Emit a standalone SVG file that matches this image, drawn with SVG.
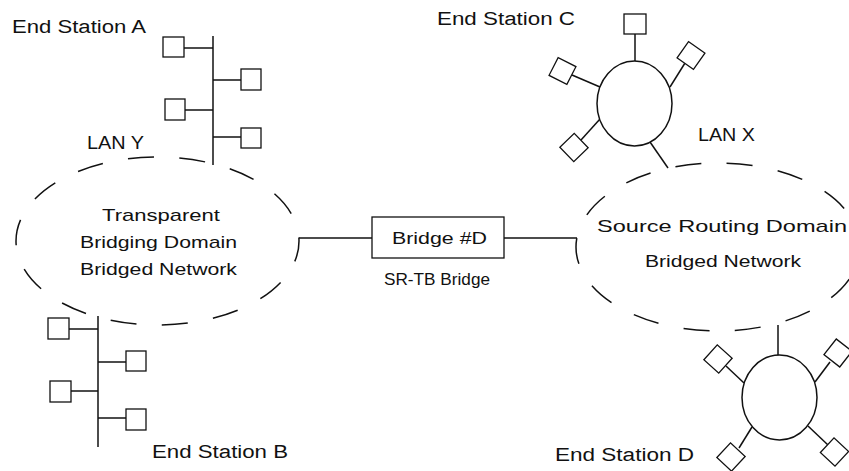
<svg xmlns="http://www.w3.org/2000/svg" width="849" height="471" viewBox="0 0 849 471">
  <style>
    .ln { stroke: #111; stroke-width: 1.5; fill: none; }
    .sta { stroke: #111; stroke-width: 1.3; fill: #fff; }
    .ring { stroke: #111; stroke-width: 1.5; fill: #fff; }
    .dom { stroke: #111; stroke-width: 1.5; fill: none; stroke-dasharray: 26 25.5; }
    .lbl { font-family: "Liberation Sans", Arial, sans-serif; font-size: 18px; fill: #111; }
    .in { font-family: "Liberation Sans", Arial, sans-serif; font-size: 17px; fill: #111; }
  </style>

  <!-- Transparent bridging domain (LAN Y) -->
  <g id="domain-y">
    <ellipse class="dom" cx="157.5" cy="241" rx="141.5" ry="84" stroke-dashoffset="5"/>
    <text class="lbl" x="87" y="149" textLength="57" lengthAdjust="spacingAndGlyphs">LAN Y</text>
    <text class="in" x="102" y="221" textLength="118" lengthAdjust="spacingAndGlyphs">Transparent</text>
    <text class="in" x="80" y="248" textLength="157" lengthAdjust="spacingAndGlyphs">Bridging Domain</text>
    <text class="in" x="80" y="275" textLength="157" lengthAdjust="spacingAndGlyphs">Bridged Network</text>
  </g>

  <!-- Source routing domain (LAN X) -->
  <g id="domain-x">
    <ellipse class="dom" cx="718" cy="247" rx="142" ry="84" stroke-dashoffset="17" transform="rotate(180 718 247)"/>
    <text class="lbl" x="698" y="141" textLength="57" lengthAdjust="spacingAndGlyphs">LAN X</text>
    <text class="in" x="597" y="232" textLength="250" lengthAdjust="spacingAndGlyphs">Source Routing Domain</text>
    <text class="in" x="645" y="267" textLength="156" lengthAdjust="spacingAndGlyphs">Bridged Network</text>
  </g>

  <!-- Links between the parts -->
  <g id="connectors">
    <!-- bridge to both domains -->
    <line class="ln" x1="299" y1="238" x2="372" y2="238"/>
    <line class="ln" x1="504" y1="238" x2="577" y2="238"/>
    <!-- bus A -->
    <line class="ln" x1="213" y1="36" x2="213" y2="165"/>
    <line class="ln" x1="184" y1="48" x2="213" y2="48"/>
    <line class="ln" x1="213" y1="80" x2="241" y2="80"/>
    <line class="ln" x1="185" y1="110" x2="213" y2="110"/>
    <line class="ln" x1="213" y1="137" x2="241" y2="137"/>
    <!-- bus B -->
    <line class="ln" x1="98" y1="316" x2="98" y2="447"/>
    <line class="ln" x1="69" y1="329" x2="98" y2="329"/>
    <line class="ln" x1="98" y1="362" x2="126" y2="362"/>
    <line class="ln" x1="71" y1="391" x2="98" y2="391"/>
    <line class="ln" x1="98" y1="418" x2="126" y2="418"/>
    <!-- ring C -->
    <line class="ln" x1="650" y1="142" x2="668" y2="168"/>
    <line class="ln" x1="635" y1="34" x2="635" y2="61"/>
    <line class="ln" x1="685" y1="63" x2="670" y2="87"/>
    <line class="ln" x1="572" y1="75" x2="600" y2="87"/>
    <line class="ln" x1="581" y1="140" x2="600" y2="119"/>
    <!-- ring D -->
    <line class="ln" x1="778" y1="325" x2="778" y2="355"/>
    <line class="ln" x1="726" y1="366" x2="744" y2="383"/>
    <line class="ln" x1="830" y1="362" x2="815" y2="382"/>
    <line class="ln" x1="752" y1="427" x2="739" y2="448"/>
    <line class="ln" x1="808" y1="426" x2="828" y2="445"/>
  </g>

  <!-- SR-TB bridge -->
  <g id="bridge-d">
    <rect class="sta" x="372" y="217" width="132" height="41"/>
    <text class="in" x="392" y="244" textLength="95" lengthAdjust="spacingAndGlyphs">Bridge #D</text>
    <text class="in" x="384" y="285" textLength="106" lengthAdjust="spacingAndGlyphs">SR-TB Bridge</text>
  </g>

  <!-- End stations on bus A -->
  <g id="station-a">
    <rect class="sta" x="163" y="37" width="21" height="20"/>
    <rect class="sta" x="241" y="69" width="20" height="21"/>
    <rect class="sta" x="165" y="99" width="20" height="21"/>
    <rect class="sta" x="241" y="128" width="20" height="20"/>
    <text class="lbl" x="12" y="33" textLength="134" lengthAdjust="spacingAndGlyphs">End Station A</text>
  </g>

  <!-- End stations on bus B -->
  <g id="station-b">
    <rect class="sta" x="48" y="318" width="21" height="21"/>
    <rect class="sta" x="126" y="351" width="20" height="20"/>
    <rect class="sta" x="50" y="381" width="21" height="21"/>
    <rect class="sta" x="126" y="409" width="20" height="21"/>
    <text class="lbl" x="152" y="458" textLength="136" lengthAdjust="spacingAndGlyphs">End Station B</text>
  </g>

  <!-- Ring C with its stations -->
  <g id="station-c">
    <ellipse class="ring" cx="634.5" cy="103.5" rx="37.5" ry="42.5"/>
    <rect class="sta" x="624" y="14" width="22" height="20"/>
    <rect class="sta" x="-10" y="-10" width="20" height="20" transform="translate(691 55.5) rotate(35)"/>
    <rect class="sta" x="-10" y="-10" width="20" height="20" transform="translate(562.5 71) rotate(27)"/>
    <rect class="sta" x="-10" y="-10" width="20" height="20" transform="translate(574 147.5) rotate(46)"/>
    <text class="lbl" x="437" y="25" textLength="138" lengthAdjust="spacingAndGlyphs">End Station C</text>
  </g>

  <!-- Ring D with its stations -->
  <g id="station-d">
    <ellipse class="ring" cx="779.5" cy="397.5" rx="37.5" ry="42.5"/>
    <rect class="sta" x="-10" y="-10" width="20" height="20" transform="translate(718 359) rotate(42)"/>
    <rect class="sta" x="-10" y="-10" width="20" height="20" transform="translate(838 353) rotate(38)"/>
    <rect class="sta" x="-10" y="-10" width="20" height="20" transform="translate(731 457) rotate(43)"/>
    <rect class="sta" x="-10" y="-10" width="20" height="20" transform="translate(834.5 452) rotate(43)"/>
    <text class="lbl" x="555" y="461" textLength="139" lengthAdjust="spacingAndGlyphs">End Station D</text>
  </g>
</svg>
